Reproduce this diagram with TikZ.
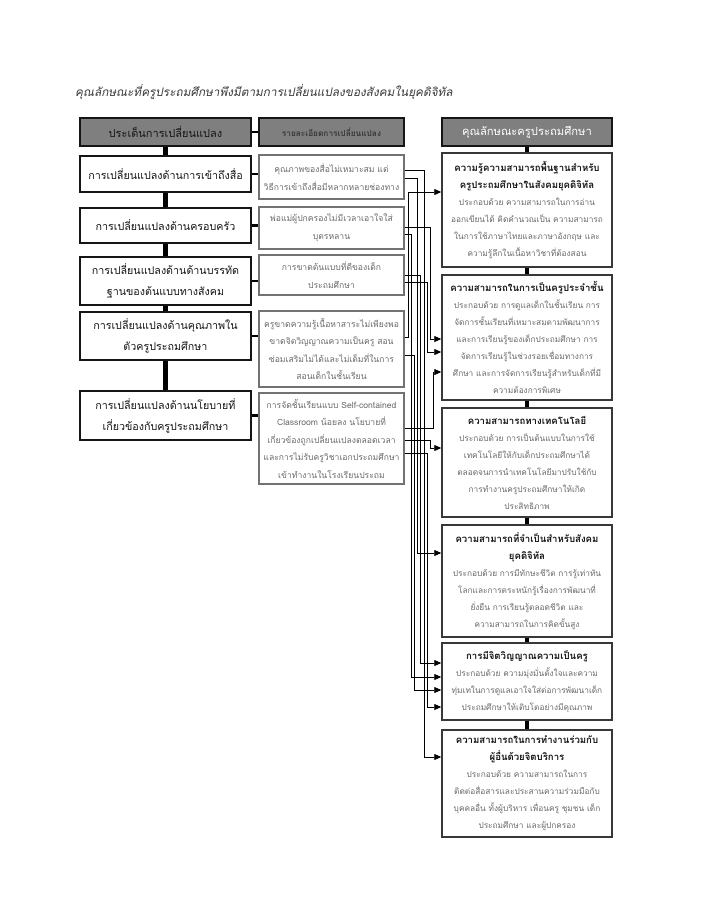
\documentclass[tikz,border=0pt]{standalone}
\usepackage{fontspec}
\setmainfont[Script=Thai]{Loma}
\newfontfamily\thaislant[Script=Thai,FakeSlant=0.2]{Loma}
\usetikzlibrary{arrows.meta,calc,positioning}
\definecolor{ChartInk}{HTML}{151515}
\definecolor{ChartGray}{HTML}{7F7F7F}
\definecolor{ChartText}{HTML}{6A6A6A}
\definecolor{ChartTitle}{HTML}{3A3A3A}
\newcommand{\traithead}[1]{{\bfseries\color{ChartInk}\fontsize{9.6}{17}\selectfont #1}}
\tikzset{
  every node/.style={inner sep=0pt, text=ChartInk},
  headbox/.style={draw=ChartInk, line width=1.2pt, fill=ChartGray, minimum height=28},
  issuebox/.style={draw=ChartInk, line width=1.5pt, fill=white, minimum width=171,
    text width=168, align=center, font=\fontsize{10.7}{21}\selectfont},
  detailbox/.style={draw=ChartGray!90!black, line width=1.2pt, fill=white, minimum width=145,
    text width=142, align=center, text=ChartText, font=\fontsize{8.6}{17.5}\selectfont},
  traitbox/.style={draw=ChartInk!85, line width=1.5pt, fill=white, minimum width=170,
    text width=168, align=center, text=ChartText, font=\fontsize{8.3}{17}\selectfont},
  spine/.style={draw=black, line width=4.5pt},
  tie/.style={draw=black, line width=2.5pt},
  feed/.style={draw=black, line width=0.8pt, -{Triangle[length=7pt,width=6pt]}},
}
\begin{document}
\begin{tikzpicture}[x=1pt,y=-1pt]
  \fill[white] (0,0) rectangle (709,906);
  \useasboundingbox (0,0) rectangle (709,906);
  % Title
  \node[anchor=west, text=ChartTitle, font=\thaislant\fontsize{11.8}{14}\selectfont] (title) at (75,92)
    {คุณลักษณะที่ครูประถมศึกษาพึงมีตามการเปลี่ยนแปลงของสังคมในยุคดิจิทัล};
  % Headers
  \node[headbox, minimum width=171, font=\fontsize{11}{13}\selectfont] (LH) at (165.5,132) {ประเด็นการเปลี่ยนแปลง};
  \node[headbox, minimum width=145, font=\bfseries\fontsize{8.3}{10}\selectfont, text=ChartInk!85] (MH) at (331.5,132) {รายละเอียดการเปลี่ยนแปลง};
  \node[headbox, minimum width=170, text=white, font=\fontsize{11.2}{13}\selectfont] (RH) at (527,132) {คุณลักษณะครูประถมศึกษา};
  % Issues of change
  \node[issuebox, minimum height=36] (L1) at (165.5,174) {การเปลี่ยนแปลงด้านการเข้าถึงสื่อ};
  \node[issuebox, minimum height=35] (L2) at (165.5,225.5) {การเปลี่ยนแปลงด้านครอบครัว};
  \node[issuebox, minimum height=48] (L3) at (165.5,281) {การเปลี่ยนแปลงด้านด้านบรรทัด\\ฐานของต้นแบบทางสังคม};
  \node[issuebox, minimum height=48] (L4) at (165.5,336) {การเปลี่ยนแปลงด้านคุณภาพใน\\ตัวครูประถมศึกษา};
  \node[issuebox, minimum height=49] (L5) at (165.5,415.5) {การเปลี่ยนแปลงด้านนโยบายที่\\เกี่ยวข้องกับครูประถมศึกษา};
  % Details of change
  \node[detailbox, minimum height=44] (M1) at (331.5,177) {คุณภาพของสื่อไม่เหมาะสม แต่\\วิธีการเข้าถึงสื่อมีหลากหลายช่องทาง};
  \node[detailbox, minimum height=42] (M2) at (331.5,228) {พ่อแม่ผู้ปกครองไม่มีเวลาเอาใจใส่\\บุตรหลาน};
  \node[detailbox, minimum height=40] (M3) at (331.5,275) {การขาดต้นแบบที่ดีของเด็ก\\ประถมศึกษา};
  \node[detailbox, minimum height=76] (M4) at (331.5,349) {ครูขาดความรู้เนื้อหาสาระไม่เพียงพอ\\ขาดจิตวิญญาณความเป็นครู สอน\\ซ่อมเสริมไม่ได้และไม่เต็มที่ในการ\\สอนเด็กในชั้นเรียน};
  \node[detailbox, minimum height=91] (M5) at (331.5,438.5) {การจัดชั้นเรียนแบบ Self-contained\\Classroom น้อยลง นโยบายที่\\เกี่ยวข้องถูกเปลี่ยนแปลงตลอดเวลา\\และการไม่รับครูวิชาเอกประถมศึกษา\\เข้าทำงานในโรงเรียนประถม};
  % Teacher characteristics
  \node[traitbox, minimum height=114] (R1) at (527,210) {\traithead{ความรู้ความสามารถพื้นฐานสำหรับ}\\\traithead{ครูประถมศึกษาในสังคมยุคดิจิทัล}\\ประกอบด้วย ความสามารถในการอ่าน\\ออกเขียนได้ คิดคำนวณเป็น ความสามารถ\\ในการใช้ภาษาไทยและภาษาอังกฤษ และ\\ความรู้ลึกในเนื้อหาวิชาที่ต้องสอน};
  \node[traitbox, minimum height=125] (R2) at (527,337.5) {\traithead{ความสามารถในการเป็นครูประจำชั้น}\\ประกอบด้วย การดูแลเด็กในชั้นเรียน การ\\จัดการชั้นเรียนที่เหมาะสมตามพัฒนาการ\\และการเรียนรู้ของเด็กประถมศึกษา การ\\จัดการเรียนรู้ในช่วงรอยเชื่อมทางการ\\ศึกษา และการจัดการเรียนรู้สำหรับเด็กที่มี\\ความต้องการพิเศษ};
  \node[traitbox, minimum height=109] (R3) at (527,462.5) {\traithead{ความสามารถทางเทคโนโลยี}\\ประกอบด้วย การเป็นต้นแบบในการใช้\\เทคโนโลยีให้กับเด็กประถมศึกษาได้\\ตลอดจนการนำเทคโนโลยีมาปรับใช้กับ\\การทำงานครูประถมศึกษาให้เกิด\\ประสิทธิภาพ};
  \node[traitbox, minimum height=112] (R4) at (527,581) {\traithead{ความสามารถที่จำเป็นสำหรับสังคม}\\\traithead{ยุคดิจิทัล}\\ประกอบด้วย การมีทักษะชีวิต การรู้เท่าทัน\\โลกและการตระหนักรู้เรื่องการพัฒนาที่\\ยั่งยืน การเรียนรู้ตลอดชีวิต และ\\ความสามารถในการคิดขั้นสูง};
  \node[traitbox, minimum height=77] (R5) at (527,681.5) {\traithead{การมีจิตวิญญาณความเป็นครู}\\ประกอบด้วย ความมุ่งมั่นตั้งใจและความ\\ทุ่มเทในการดูแลเอาใจใส่ต่อการพัฒนาเด็ก\\ประถมศึกษาให้เติบโตอย่างมีคุณภาพ};
  \node[traitbox, minimum height=107] (R6) at (527,783.5) {\traithead{ความสามารถในการทำงานร่วมกับ}\\\traithead{ผู้อื่นด้วยจิตบริการ}\\ประกอบด้วย ความสามารถในการ\\ติดต่อสื่อสารและประสานความร่วมมือกับ\\บุคคลอื่น ทั้งผู้บริหาร เพื่อนครู ชุมชน เด็ก\\ประถมศึกษา และผู้ปกครอง};
  % Spines
  \draw[spine] (LH.south) -- (L1.north);
  \draw[spine] (L1.south) -- (L2.north);
  \draw[spine] (L2.south) -- (L3.north);
  \draw[spine] (L3.south) -- (L4.north);
  \draw[spine] (L4.south) -- (L5.north);
  \draw[spine] (RH.south) -- (R1.north);
  \draw[spine] (R1.south) -- (R2.north);
  \draw[spine] (R2.south) -- (R3.north);
  \draw[spine] (R3.south) -- (R4.north);
  \draw[spine] (R4.south) -- (R5.north);
  \draw[spine] (R5.south) -- (R6.north);
  % Issue to detail ties
  \draw[tie] (LH.east) -- (MH.west);
  \draw[tie] (L1.east) -- (L1.east -| M1.west);
  \draw[tie] (L2.east) -- (L2.east -| M2.west);
  \draw[tie] (L3.east) -- (L3.east -| M3.west);
  \draw[tie] (L4.east) -- (L4.east -| M4.west);
  \draw[tie] (L5.east) -- (L5.east -| M5.west);
  % Detail to characteristic feeds
  \draw[feed] (M1.east |- 0,170) -| (424,757) -- (R6.west |- 0,757);
  \draw[feed] (M1.east |- 0,178) -| (417,553) -- (R4.west |- 0,553);
  \draw[feed] (M2.east |- 0,227) -| (430,339) -- (R2.west |- 0,339);
  \draw[feed] (M2.east |- 0,234) -| (411,677) -- (R5.west |- 0,677);
  \draw[feed] (M3.east |- 0,275) -| (420,663) -- (R5.west |- 0,663);
  \draw[feed] (M3.east |- 0,282) -| (427,352) -- (R2.west |- 0,352);
  \draw[feed] (M4.east |- 0,337) -| (408,192) -- (R1.west |- 0,192);
  \draw[feed] (M4.east |- 0,355) -| (414,690) -- (R5.west |- 0,690);
  \draw[feed] (M5.east |- 0,428) -| (433,372) -- (R2.west |- 0,372);
  \draw[feed] (M5.east |- 0,440) -| (430,448) -- (R3.west |- 0,448);
  \draw[feed] (M5.east |- 0,453) -| (427,707) -- (R5.west |- 0,707);
\end{tikzpicture}
\end{document}
